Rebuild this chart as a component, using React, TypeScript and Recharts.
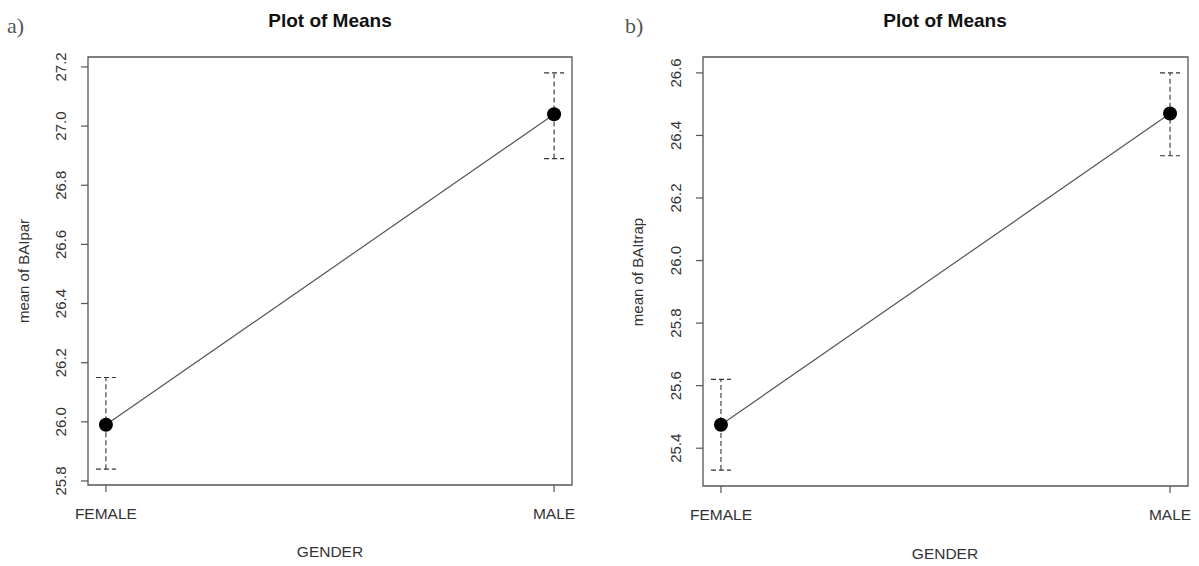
import React from 'react';
import { LineChart, Line, XAxis, YAxis, ErrorBar, ReferenceArea } from 'recharts';

// categories
const genders = ['FEMALE', 'MALE'];

// panel a) BAIpar
const parMeans = [25.99, 27.04];
const parLower = [25.84, 26.89];
const parUpper = [26.15, 27.18];
const parTicks = [25.8, 26.0, 26.2, 26.4, 26.6, 26.8, 27.0, 27.2];

// panel b) BAItrap
const trapMeans = [25.475, 26.47];
const trapLower = [25.33, 26.335];
const trapUpper = [25.62, 26.6];
const trapTicks = [25.4, 25.6, 25.8, 26.0, 26.2, 26.4, 26.6];

const FONT = '"Liberation Sans", Arial, sans-serif';
const TEXT = '#333';
const LINE = '#555';

// R-style 4% padding around the data range
const padRange = (lo: number, hi: number): [number, number] => {
  const d = (hi - lo) * 0.04;
  return [lo - d, hi + d];
};

const X_DOMAIN: [number, number] = [0.96, 2.04];

const XTick = ({ x, y, payload }: any) => (
  <text x={x} y={y} dy={25} textAnchor="middle" fill={TEXT} fontSize={15.5} fontFamily={FONT}>
    {genders[payload.value - 1]}
  </text>
);

const YTick = ({ x, y, payload }: any) => {
  const bx = x - 13;
  return (
    <text
      x={bx}
      y={y}
      textAnchor="middle"
      fill={TEXT}
      fontSize={15}
      fontFamily={FONT}
      transform={`rotate(-90 ${bx} ${y})`}
    >
      {payload.value.toFixed(1)}
    </text>
  );
};

interface PanelProps {
  left: number;
  width: number;
  margin: { top: number; right: number; bottom: number; left: number };
  means: number[];
  lower: number[];
  upper: number[];
  ticks: number[];
}

const MeansPanel: React.FC<PanelProps> = ({ left, width, margin, means, lower, upper, ticks }) => {
  const data = genders.map((g, i) => ({
    x: i + 1,
    mean: means[i],
    err: [means[i] - lower[i], upper[i] - means[i]],
  }));
  const yDomain = padRange(Math.min(...lower), Math.max(...upper));

  return (
    <div style={{ position: 'absolute', left, top: 0 }}>
      <LineChart width={width} height={566} data={data} margin={margin}>
        <ReferenceArea
          x1={X_DOMAIN[0]}
          x2={X_DOMAIN[1]}
          y1={yDomain[0]}
          y2={yDomain[1]}
          fill="none"
          stroke={LINE}
          strokeWidth={1.3}
          ifOverflow="visible"
        />
        <XAxis
          dataKey="x"
          type="number"
          domain={X_DOMAIN}
          ticks={[1, 2]}
          height={30}
          axisLine={false}
          tickSize={7}
          tickLine={{ stroke: LINE, strokeWidth: 1.2 }}
          tick={<XTick />}
          allowDataOverflow
        />
        <YAxis
          type="number"
          domain={yDomain}
          ticks={ticks}
          width={60}
          axisLine={false}
          tickSize={7}
          tickLine={{ stroke: LINE, strokeWidth: 1.2 }}
          tick={<YTick />}
          allowDataOverflow
        />
        <Line
          dataKey="mean"
          type="linear"
          stroke="#555"
          strokeWidth={1.2}
          dot={{ r: 7, fill: '#000', stroke: '#000', strokeWidth: 0 }}
          isAnimationActive={false}
        >
          <ErrorBar
            dataKey="err"
            direction="y"
            width={10}
            stroke="#333"
            strokeWidth={1.1}
            strokeDasharray="5 3"
            isAnimationActive={false}
          />
        </Line>
      </LineChart>
    </div>
  );
};

const App: React.FC = () => (
  <div style={{ position: 'absolute', left: 0, top: 0, width: 1199, height: 566, background: '#fff' }}>
    <MeansPanel
      left={0}
      width={600}
      margin={{ top: 57, right: 28, bottom: 51, left: 28 }}
      means={parMeans}
      lower={parLower}
      upper={parUpper}
      ticks={parTicks}
    />
    <MeansPanel
      left={600}
      width={599}
      margin={{ top: 57, right: 11, bottom: 50, left: 43 }}
      means={trapMeans}
      lower={trapLower}
      upper={trapUpper}
      ticks={trapTicks}
    />
    <svg width={1199} height={566} style={{ position: 'absolute', left: 0, top: 0, pointerEvents: 'none' }}>
      <text x={7} y={33} fontSize={22} fontFamily='"Liberation Serif", serif' fill="#555">a)</text>
      <text x={625} y={33} fontSize={22} fontFamily='"Liberation Serif", serif' fill="#555">b)</text>
      <text x={330} y={27} textAnchor="middle" fontSize={19} fontWeight="bold" fontFamily={FONT} fill="#111">Plot of Means</text>
      <text x={945} y={27} textAnchor="middle" fontSize={19} fontWeight="bold" fontFamily={FONT} fill="#111">Plot of Means</text>
      <text x={330} y={557} textAnchor="middle" fontSize={15.5} fontFamily={FONT} fill={TEXT}>GENDER</text>
      <text x={945} y={559} textAnchor="middle" fontSize={15.5} fontFamily={FONT} fill={TEXT}>GENDER</text>
      <text x={29} y={271} textAnchor="middle" fontSize={15} fontFamily={FONT} fill={TEXT} transform="rotate(-90 29 271)">mean of BAIpar</text>
      <text x={643} y={272} textAnchor="middle" fontSize={15} fontFamily={FONT} fill={TEXT} transform="rotate(-90 643 272)">mean of BAItrap</text>
    </svg>
  </div>
);

export default App;
